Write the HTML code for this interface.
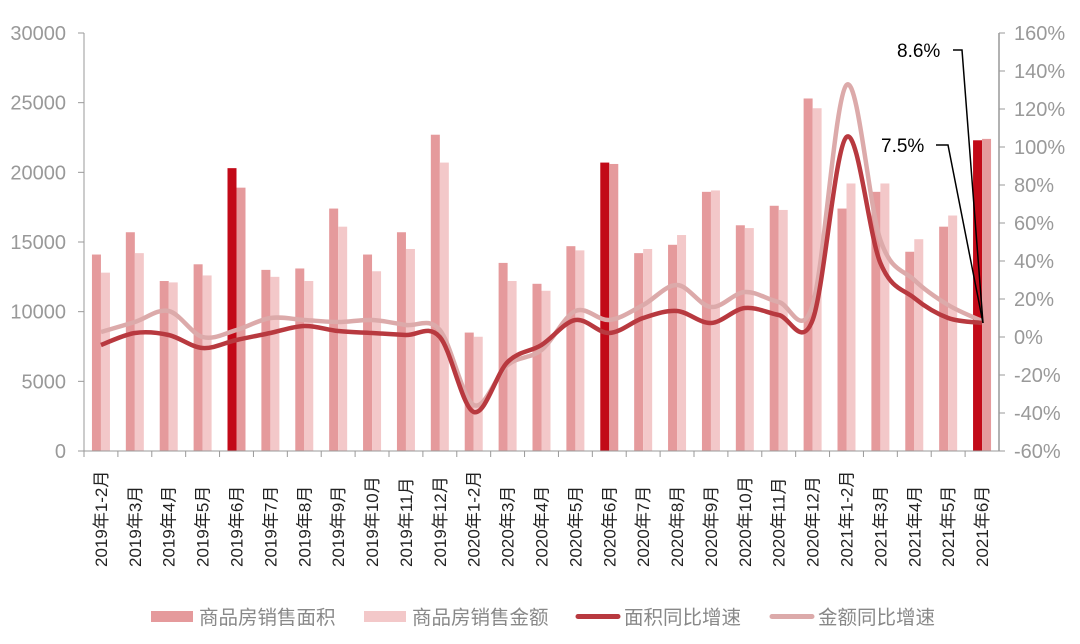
<!DOCTYPE html>
<html><head><meta charset="utf-8"><style>
body{margin:0;background:#fff;}
svg text{font-family:"Liberation Sans","Noto Sans CJK SC",sans-serif;}
</style></head><body>
<svg id="c" width="1080" height="639" xmlns="http://www.w3.org/2000/svg"></svg>
<script>
const s=document.getElementById('c');let h='';
const X0=84,X1=999,Y0=451,Y1=33;
const yL=v=>Y0-(v/30000)*(Y0-Y1);
const yR=p=>Y0-((p+60)/220)*(Y0-Y1);
const n=27,w=(X1-X0)/n;
const A=[14100,15700,12200,13400,20300,13000,13100,17400,14100,15700,22700,8500,13500,12000,14700,20700,14200,14800,18600,16200,17600,25300,17400,18600,14300,16100,22300];
const B=[12800,14200,12100,12600,18900,12500,12200,16100,12900,14500,20700,8200,12200,11500,14400,20600,14500,15500,18700,16000,17300,24600,19200,19200,15200,16900,22400];
const LA=[345,333,335,348,340,333,326,331,333,335,337,412,362,345,320,333,318,311,323,308,315,320,137,263,298,318,323];
const LB=[332,322,311,337,330,318,320,322,320,325,330,405,365,350,311,320,305,285,307,292,302,305,85,240,280,305,321];
const labels=['2019年1-2月','2019年3月','2019年4月','2019年5月','2019年6月','2019年7月','2019年8月','2019年9月','2019年10月','2019年11月','2019年12月','2020年1-2月','2020年3月','2020年4月','2020年5月','2020年6月','2020年7月','2020年8月','2020年9月','2020年10月','2020年11月','2020年12月','2021年1-2月','2021年3月','2021年4月','2021年5月','2021年6月'];
const hi=[4,15,26];
for(let i=0;i<n;i++){const c=X0+w*(i+.5);
 const ca=hi.includes(i)?'#c20a18':'#e59a9c', cb=hi.includes(i)?'#e59a9c':'#f3c8c9';
 h+=`<rect x="${c-9}" y="${yL(A[i])}" width="9" height="${Y0-yL(A[i])}" fill="${ca}"/>`;
 h+=`<rect x="${c}" y="${yL(B[i])}" width="9" height="${Y0-yL(B[i])}" fill="${cb}"/>`;
 h+=`<text transform="translate(${c+6},567) rotate(-90)" font-size="17" fill="#222">${labels[i]}</text>`;
 h+=`<line x1="${X0+w*i}" y1="451" x2="${X0+w*i}" y2="457" stroke="#999"/>`;
}
function path(L){const p=L.map((y,i)=>[X0+w*(i+.5),y]);let d=`M${p[0][0]},${p[0][1]}`;
 for(let i=0;i<p.length-1;i++){const p0=p[i-1]||p[i],p1=p[i],p2=p[i+1],p3=p[i+2]||p2;
 d+=` C${p1[0]+(p2[0]-p0[0])/6},${p1[1]+(p2[1]-p0[1])/6} ${p2[0]-(p3[0]-p1[0])/6},${p2[1]-(p3[1]-p1[1])/6} ${p2[0]},${p2[1]}`;}return d;}
h+=`<path d="${path(LB)}" fill="none" stroke="#dcaaaa" stroke-width="4.5"/>`;
h+=`<path d="${path(LA)}" fill="none" stroke="#b8393f" stroke-width="4.5"/>`;
h+=`<line x1="${X0}" y1="33" x2="${X0}" y2="451" stroke="#999"/><line x1="${X0}" y1="451" x2="${X1}" y2="451" stroke="#999"/>`;
h+=`<line x1="${X1}" y1="33" x2="${X1}" y2="451" stroke="#999" stroke-width="1.5"/>`;
for(let v=0;v<=30000;v+=5000){const y=yL(v);h+=`<line x1="78" y1="${y}" x2="84" y2="${y}" stroke="#999"/><text x="66" y="${y+7}" font-size="20" fill="#999" text-anchor="end">${v}</text>`;}
for(let p=-60;p<=160;p+=20){const y=yR(p);h+=`<line x1="999" y1="${y}" x2="1005" y2="${y}" stroke="#999"/><text x="1014" y="${y+7}" font-size="20" fill="#999">${p}%</text>`;}
h+=`<polyline points="953,50 962,50 983,323" fill="none" stroke="#000" stroke-width="1.5"/><text x="897" y="57" font-size="19" fill="#000">8.6%</text>`;
h+=`<polyline points="936,145 948,145 983,323" fill="none" stroke="#000" stroke-width="1.5"/><text x="881" y="152" font-size="19" fill="#000">7.5%</text>`;
const lg=[[151,'rect','#e59a9c','商品房销售面积'],[364,'rect','#f3c8c9','商品房销售金额'],[576,'line','#b8393f','面积同比增速'],[770,'line','#dcaaaa','金额同比增速']];
lg.forEach(([x,t,c,txt])=>{if(t=='rect')h+=`<rect x="${x}" y="611" width="42" height="11" fill="${c}"/>`;else h+=`<line x1="${x+2}" y1="616.5" x2="${x+42}" y2="616.5" stroke="${c}" stroke-width="5" stroke-linecap="round"/>`;
h+=`<text x="${x+48}" y="624" font-size="19.5" fill="#888">${txt}</text>`;});
s.innerHTML=h;
</script>
</body></html>
